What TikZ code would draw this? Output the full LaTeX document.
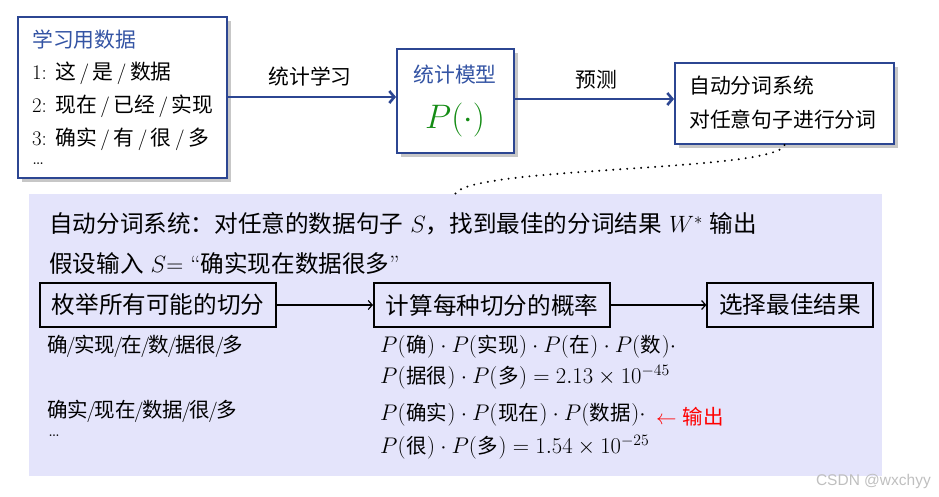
\documentclass[tikz,border=0pt]{standalone}
\usepackage{fix-cm}
\usepackage{fontspec}
\newfontfamily\cjk{Noto Sans CJK SC}
\newfontfamily\wmfont{Liberation Sans}
\usetikzlibrary{arrows.meta,shadows}
\definecolor{bblue}{RGB}{44,70,146}
\definecolor{tblue}{RGB}{52,84,164}
\definecolor{lav}{RGB}{228,228,251}
\definecolor{pgreen}{RGB}{20,140,20}
\newcommand{\zh}[1]{{\cjk #1}}
\newcommand{\mz}[1]{\mbox{\fontsize{20.5}{24}\selectfont\kern0.6pt\zh{#1}\kern0.6pt}}
\newcommand{\tsl}{\kern3.5pt/\kern3.5pt}
\newcommand{\ssl}{\kern-1.5pt/\kern-1.5pt}
\newcommand{\tfont}{\fontsize{20.8}{25}\selectfont}
\newcommand{\bfont}{\fontsize{23.6}{28}\selectfont}
\newcommand{\sfont}{\fontsize{20.5}{24}\selectfont}
\newcommand{\mfont}{\fontsize{22.6}{26}\selectfont}
\tikzset{
  topbox/.style={draw=bblue, line width=2pt, fill=white, anchor=north west, inner sep=0pt,
    drop shadow={shadow xshift=4pt, shadow yshift=-4pt, fill=black!22, opacity=1}},
  txt/.style={anchor=west, inner sep=0pt, font=\tfont},
  ctxt/.style={inner sep=0pt, font=\tfont},
  bluearrow/.style={draw=bblue, line width=2.6pt, -{Straight Barb[length=5pt,width=12pt]}},
  stepbox/.style={draw=black, line width=1.6pt, inner xsep=12pt, inner ysep=0pt, minimum height=44pt, font=\bfont},
  blackarrow/.style={draw=black, line width=1.2pt, -{Straight Barb[length=4pt,width=9pt]}},
  btxt/.style={anchor=west, inner sep=0pt, font=\bfont},
  stxt/.style={anchor=west, inner sep=0pt, font=\sfont},
  mtxt/.style={anchor=west, inner sep=0pt, font=\mfont},
  dotline/.style={line width=2.2pt, line cap=round, dash pattern=on 0pt off 7pt}
}
\begin{document}
\begin{tikzpicture}[x=1pt,y=-1pt]
\useasboundingbox (0,0) rectangle (939,497);

% top row boxes
\node[topbox, minimum width=209pt, minimum height=161pt] (data) at (17,16) {};
\node[topbox, minimum width=117pt, minimum height=104pt] (model) at (396,48) {};
\node[topbox, minimum width=219pt, minimum height=81pt] (sys) at (674,62) {};

% box 1 text
\node[txt, text=tblue] (d0) at (32,40) {\zh{学习用数据}};
\node[txt] (d1) at (32,73) {1: \zh{这}\tsl\zh{是}\tsl\zh{数据}};
\node[txt] (d2) at (32,106) {2: \zh{现在}\tsl\zh{已经}\tsl\zh{实现}};
\node[txt] (d3) at (32,139) {3: \zh{确实}\tsl\zh{有}\tsl\zh{很}\tsl\zh{多}};
\node[txt] (d4) at (32,164) {\ldots};

% box 2 text
\node[ctxt, text=tblue] (m0) at (455,75) {\zh{统计模型}};
\node[inner sep=0pt, text=pgreen, font=\fontsize{34}{40}\selectfont] (m1) at (455,120) {$P(\cdot)$};

% box 3 text
\node[txt] (s0) at (689,86) {\zh{自动分词系统}};
\node[txt] (s1) at (689,120) {\zh{对任意句子进行分词}};

% top arrows
\draw[bluearrow] (data.east |- 0,97) -- (model.west |- 0,97);
\node[ctxt] (l1) at (310,77) {\zh{统计学习}};
\draw[bluearrow] (model.east |- 0,99) -- (sys.west |- 0,99);
\node[ctxt] (l2) at (596,80) {\zh{预测}};

% panel
\node[fill=lav, minimum width=853pt, minimum height=282pt, anchor=north west, inner sep=0pt] (panel) at (29,194) {};
\coordinate (dotend) at (455,194);
\draw[dotline] (sys.south) .. controls (776,172) and (470,166) .. (dotend);

\node[btxt] (p1) at (49,224) {\zh{自动分词系统：对任意的数据句子} $S$\zh{，找到最佳的分词结果} $W^*$ \zh{输出}};
\node[btxt] (p2) at (49,263) {\zh{假设输入} $S$= ``\zh{确实现在数据很多}''};

\node[stepbox] (A) at (158,305) {\zh{枚举所有可能的切分}};
\node[stepbox] (B) at (492,305) {\zh{计算每种切分的概率}};
\node[stepbox] (C) at (790,305) {\zh{选择最佳结果}};
\draw[blackarrow] (A) -- (B);
\draw[blackarrow] (B) -- (C);

\node[stxt] (c1) at (47,346) {\zh{确}\ssl\zh{实现}\ssl\zh{在}\ssl\zh{数}\ssl\zh{据很}\ssl\zh{多}};
\node[stxt] (c2) at (47,411) {\zh{确实}\ssl\zh{现在}\ssl\zh{数据}\ssl\zh{很}\ssl\zh{多}};
\node[stxt] (c3) at (48,436) {\ldots};

\node[mtxt] (e1) at (380,347) {$P(\mz{确})\cdot P(\mz{实现})\cdot P(\mz{在})\cdot P(\mz{数})\cdot$};
\node[mtxt] (e2) at (380,377) {$P(\mz{据很})\cdot P(\mz{多}) = 2.13\times 10^{-45}$};
\node[mtxt] (e3) at (380,415) {$P(\mz{确实})\cdot P(\mz{现在})\cdot P(\mz{数据})\cdot$};
\node[mtxt] (e4) at (380,447) {$P(\mz{很})\cdot P(\mz{多}) = 1.54\times 10^{-25}$};
\node[stxt, text=red] (out) at (656,417) {$\leftarrow$ \zh{输出}};

\node[anchor=east, inner sep=0pt, text=black!25, font=\wmfont\fontsize{15.5}{17}\selectfont] (wm) at (931,481) {CSDN @wxchyy};
\end{tikzpicture}
\end{document}
